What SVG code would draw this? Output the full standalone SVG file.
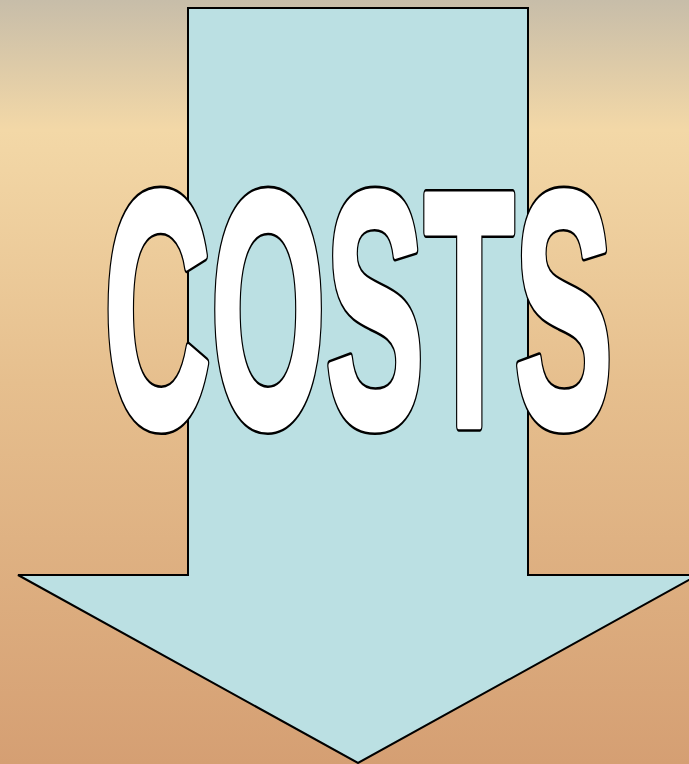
<svg xmlns="http://www.w3.org/2000/svg" width="689" height="764" viewBox="0 0 689 764">
<defs>
<linearGradient id="bg" x1="0" y1="0" x2="0" y2="1">
<stop offset="0" stop-color="#C7BDA9"/>
<stop offset="0.17" stop-color="#F3D8A7"/>
<stop offset="0.5" stop-color="#E6BF8E"/>
<stop offset="1" stop-color="#D59F73"/>
</linearGradient>
<style>
.arrow{fill:#BBE0E3;stroke:#000;stroke-width:2;stroke-linejoin:miter}
.word{font-family:"Liberation Sans",Arial,sans-serif;font-weight:bold;font-size:336px;stroke-linejoin:round}
.outline{fill:#000;stroke:#000;stroke-width:9}
.face{fill:#fff;stroke:#fff;stroke-width:5}
</style>
</defs>
<rect x="0" y="0" width="689" height="764" fill="url(#bg)"/>
<g id="arrow">
<polygon class="arrow" points="188,8 528,8 528,575 698,575 358,763 18,575 188,575"/>
</g>
<g id="costs" transform="translate(104,426) scale(0.4397,1)">
<text class="word outline" x="0" y="0" vector-effect="non-scaling-stroke">COSTS</text>
<text class="word face" x="0" y="0" vector-effect="non-scaling-stroke">COSTS</text>
</g>
</svg>
